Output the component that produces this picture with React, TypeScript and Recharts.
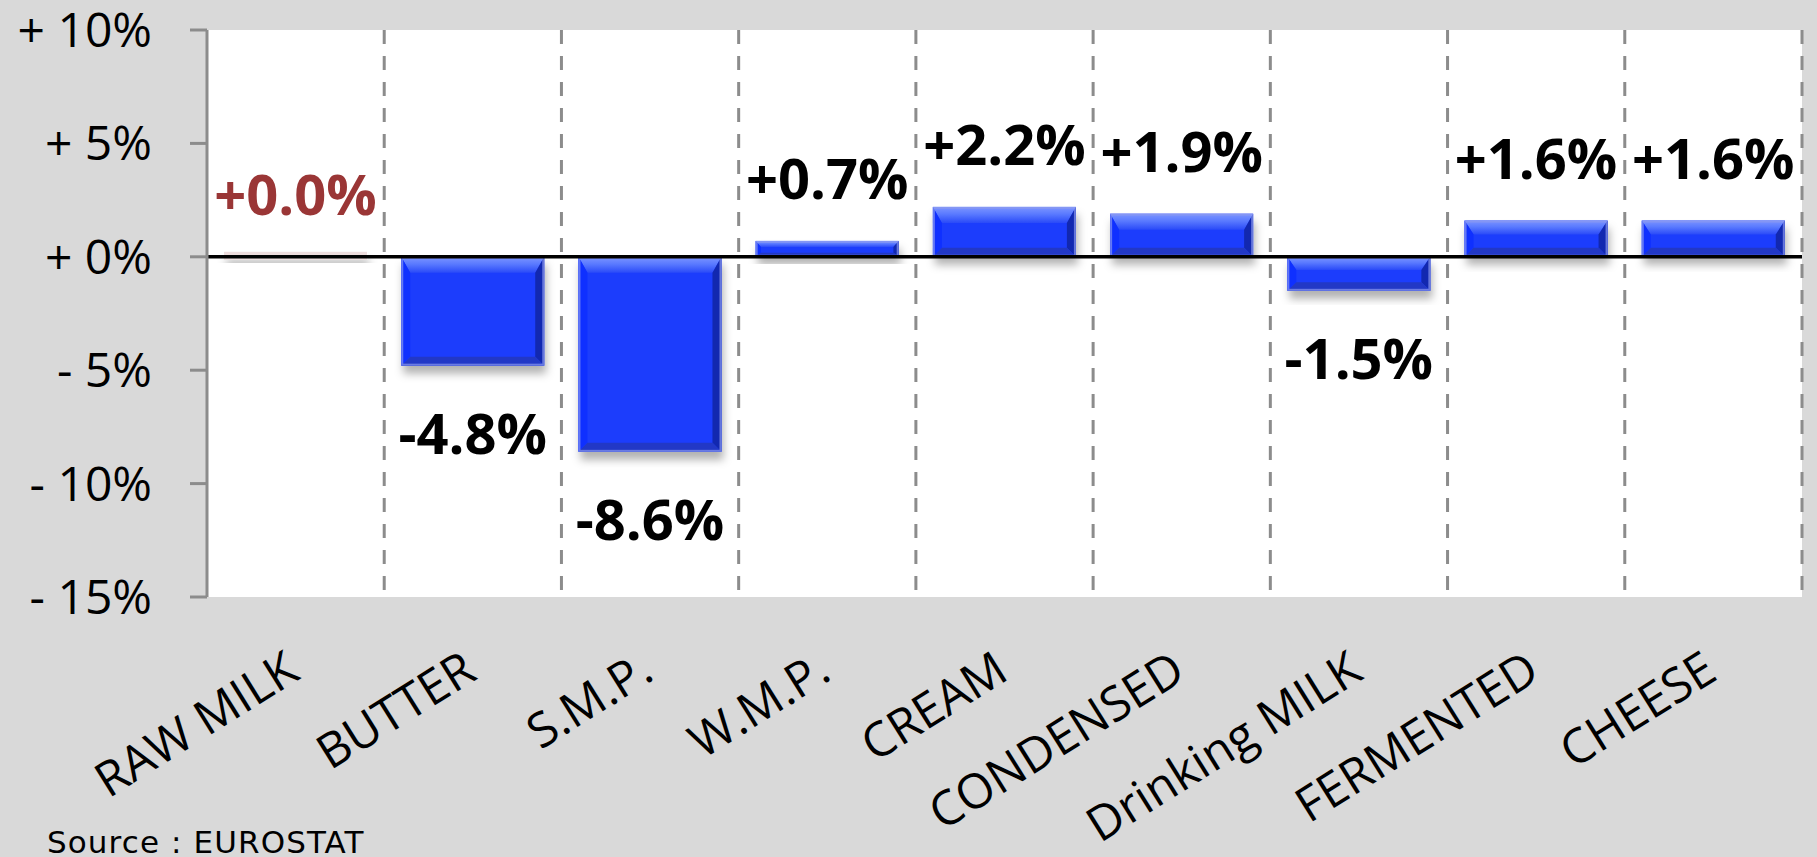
import React from 'react';
import {
  BarChart,
  Bar,
  XAxis,
  YAxis,
  CartesianGrid,
  ReferenceLine,
  LabelList,
} from 'recharts';

const categories = [
  'RAW MILK',
  'BUTTER',
  'S.M.P.',
  'W.M.P.',
  'CREAM',
  'CONDENSED',
  'Drinking MILK',
  'FERMENTED',
  'CHEESE',
];
const changes = [0.0, -4.8, -8.6, 0.7, 2.2, 1.9, -1.5, 1.6, 1.6];
const yTicks = [10, 5, 0, -5, -10, -15];

const data = categories.map((name, i) => ({ name, value: changes[i] }));

const GRID = '#8c8c8c';
const FONT = '"Open Sans", sans-serif';

const fmtTick = (v: number) => (v > 0 ? `+ ${v}%` : v < 0 ? `- ${Math.abs(v)}%` : '+ 0%');
const fmtValue = (v: number) => `${v < 0 ? '-' : '+'}${Math.abs(v).toFixed(1)}%`;

// Excel-style bevelled bar with a soft drop shadow
const BevelBar = (props: any) => {
  const { x, y, width, height } = props;
  const top = Math.min(y, y + height);
  const h = Math.abs(height);
  const w = width;
  if (h < 1) {
    return (
      <rect x={x} y={top - 5} width={w} height={8} fill="#eddcdc" filter="url(#barShadow)" />
    );
  }
  const s = Math.min(9, h / 3);
  const t = Math.min(16, h / 2.6);
  const bt = Math.min(9, h / 4);
  return (
    <g>
      <rect x={x} y={top} width={w} height={h} fill="#1b3cfc" filter="url(#barShadow)" />
      <polygon
        points={`${x},${top} ${x + w},${top} ${x + w - s},${top + t} ${x + s},${top + t}`}
        fill="url(#bevelTop)"
      />
      <polygon
        points={`${x},${top} ${x + s},${top + t} ${x + s},${top + h - bt} ${x},${top + h}`}
        fill="#0f30ff"
      />
      <polygon
        points={`${x + w},${top} ${x + w},${top + h} ${x + w - s},${top + h - bt} ${x + w - s},${top + t}`}
        fill="#1228b0"
      />
      <polygon
        points={`${x},${top + h} ${x + w},${top + h} ${x + w - s},${top + h - bt} ${x + s},${top + h - bt}`}
        fill="#2238c6"
      />
      <rect
        x={x + 1}
        y={top + 1}
        width={w - 2}
        height={h - 2}
        fill="none"
        stroke="#8a98f0"
        strokeOpacity={0.7}
        strokeWidth={2}
      />
    </g>
  );
};

const renderValueLabel = (props: any) => {
  const { x, y, width, height, value, index } = props;
  const top = Math.min(y, y + height);
  const bottom = Math.max(y, y + height);
  const cy = value >= 0 ? top - 64 : bottom + 66;
  return (
    <text
      x={x + width / 2}
      y={cy}
      textAnchor="middle"
      dominantBaseline="central"
      fontFamily={FONT}
      fontWeight={700}
      fontSize={56}
      fill={index === 0 ? '#9a3636' : '#000'}
    >
      {fmtValue(value)}
    </text>
  );
};

const CategoryTick = (props: any) => {
  const { x, y, payload } = props;
  return (
    <g transform={`translate(${x + 6},${y + 81}) rotate(-32)`}>
      <text x={0} y={0} textAnchor="end" fontFamily={FONT} fontSize={48} fill="#000">
        {payload.value}
      </text>
    </g>
  );
};

export default function App() {
  return (
    <div
      style={{
        position: 'absolute',
        left: 0,
        top: 0,
        width: 1817,
        height: 857,
        background: '#d9d9d9',
      }}
    >
      <BarChart
        width={1817}
        height={857}
        data={data}
        margin={{ top: 30, right: 15, bottom: 0, left: 0 }}
        barCategoryGap="9.6%"
      >
        <defs>
          <linearGradient id="bevelTop" x1="0" y1="0" x2="0" y2="1">
            <stop offset="0%" stopColor="#7d95ff" />
            <stop offset="45%" stopColor="#5a7aff" />
            <stop offset="100%" stopColor="#2a4af8" />
          </linearGradient>
          <filter id="barShadow" x="-10%" y="-20%" width="120%" height="160%">
            <feDropShadow dx="2" dy="8" stdDeviation="4" floodColor="#000" floodOpacity="0.3" />
          </filter>
        </defs>
        <CartesianGrid
          horizontal={false}
          fill="#ffffff"
          stroke={GRID}
          strokeWidth={3}
          strokeDasharray="14 12"
          verticalCoordinatesGenerator={({ offset }: any) =>
            categories.map((_, i) => offset.left + (offset.width * (i + 1)) / categories.length)
          }
        />
        <XAxis
          dataKey="name"
          interval={0}
          axisLine={false}
          tickLine={false}
          tickSize={0}
          tickMargin={0}
          height={260}
          tick={<CategoryTick />}
        />
        <YAxis
          domain={[-15, 10]}
          ticks={yTicks}
          tickFormatter={fmtTick}
          width={207}
          axisLine={{ stroke: GRID, strokeWidth: 3 }}
          tickLine={{ stroke: GRID, strokeWidth: 3 }}
          tickSize={17}
          tickMargin={38}
          tick={{ fill: '#000', fontFamily: FONT, fontSize: 48 }}
        />
        <Bar dataKey="value" shape={<BevelBar />} isAnimationActive={false}>
          <LabelList dataKey="value" content={renderValueLabel} />
        </Bar>
        <ReferenceLine y={0} stroke="#000" strokeWidth={3.5} />
      </BarChart>
      <div
        style={{
          position: 'absolute',
          left: 47,
          top: 825,
          fontFamily: '"DejaVu Sans", sans-serif',
          fontSize: 31,
          letterSpacing: 1.1,
          lineHeight: '34px',
          color: '#000',
          whiteSpace: 'nowrap',
        }}
      >
        Source : EUROSTAT
      </div>
    </div>
  );
}
